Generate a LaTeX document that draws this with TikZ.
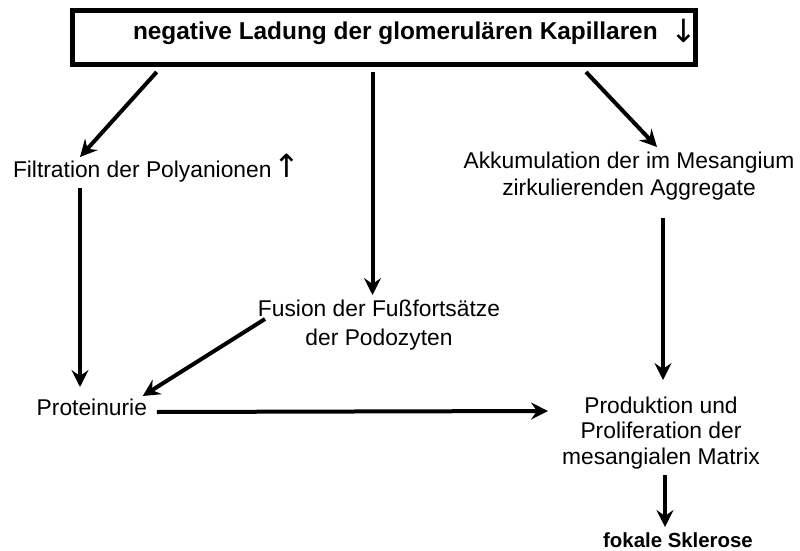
\documentclass[tikz,border=0pt]{standalone}
\usepackage{fontspec}
\setmainfont{Liberation Sans}
\newfontfamily\arrowfont{DejaVu Sans}
\usetikzlibrary{arrows.meta,calc}

% strut that fixes the top of a first line
\newcommand{\topstrut}{\rule{0pt}{17pt}}
% thin up/down arrows set after a text
\newcommand{\uparr}{{\arrowfont\mdseries\fontsize{32}{32}\selectfont ↑}}
\newcommand{\downarr}{\raisebox{-3pt}{\arrowfont\mdseries\fontsize{32}{32}\selectfont ↓}}

\begin{document}
\begin{tikzpicture}[
  x=1pt, y=-1pt,
  txt/.style={inner sep=0pt, outer sep=0pt, align=center,
    font=\fontsize{22.8}{27}\selectfont},
  arr/.style={line width=4pt, -{Stealth[length=17pt,width=17pt,inset=6pt]}},
  frame/.style={draw, line width=5pt, minimum width=623pt, minimum height=54pt,
    inner sep=0pt}
]
\useasboundingbox (0,0) rectangle (800,551);

% top box with its label
\node[frame] (top) at (384,37.5) {};
\node[txt, anchor=base west, font=\bfseries\fontsize{24.4}{28}\selectfont]
  (toptext) at (133,40) {negative Ladung der glomerulären Kapillaren\hspace{13pt}\downarr};

% text nodes
\node[txt, anchor=base west] (filt) at (13,177) {Filtration der Polyanionen\hspace{2pt}\uparr};
\node[txt, anchor=north, font=\fontsize{22.8}{27}\selectfont] (akk) at (629,151)
  {\topstrut Akkumulation der im Mesangium\\zirkulierenden Aggregate};
\node[txt, anchor=north, font=\fontsize{22.8}{29}\selectfont] (fus) at (379,299)
  {\topstrut Fusion der Fußfortsätze\\der Podozyten};
\node[txt, anchor=base west] (prot) at (36.7,415) {Proteinurie};
\node[txt, anchor=north, font=\fontsize{22.8}{25.5}\selectfont] (prod) at (661,396)
  {\topstrut Produktion und\\Proliferation der\\mesangialen Matrix};
\node[txt, anchor=base, font=\bfseries\fontsize{20.4}{24}\selectfont] (fok) at (678,547)
  {fokale Sklerose};

% connectors
\draw[arr] ($(top.south west)+(86.7,5)$) -- ($(filt.base west)+(67,-20)$);
\draw[arr] ($(top.south west)+(302.5,5)$) -- ($(fus.north)+(-6.5,-4)$);
\draw[arr] ($(top.south west)+(516,5)$) -- ($(akk.north)+(28,-4)$);
\draw[arr] ($(filt.base west)+(67,11)$) -- ($(prot.base west)+(43.3,-28)$);
\draw[arr] ($(fus.north)+(-114,20)$) -- ($(prot.base west)+(106,-19)$);
\draw[arr] ($(prot.base east)+(10,-3)$) -- ($(prod.north)+(-113,15)$);
\draw[arr] ($(akk.north)+(34,67)$) -- ($(prod.north)+(2,-16)$);
\draw[arr] ($(prod.north)+(4,79)$) -- ($(fok.base)+(-13,-20)$);
\end{tikzpicture}
\end{document}
